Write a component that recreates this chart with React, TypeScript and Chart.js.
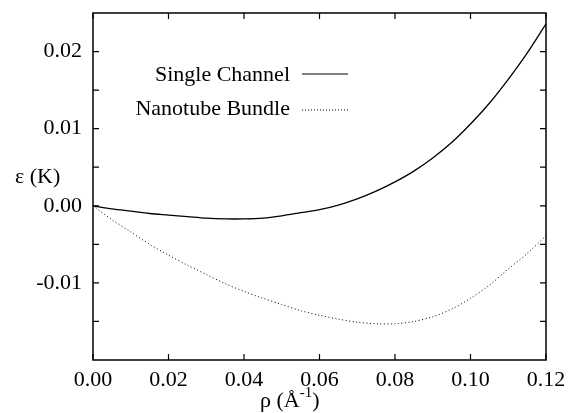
import React, { useEffect, useRef } from "react";
import { Chart, registerables } from "chart.js";

Chart.register(...registerables);

const rho = [0, 0.005, 0.01, 0.015, 0.02, 0.025, 0.03, 0.035, 0.04, 0.045, 0.05, 0.055, 0.06, 0.065, 0.07, 0.075, 0.08, 0.085, 0.09, 0.095, 0.1, 0.105, 0.11, 0.115, 0.12];
const singleChannel = [0, -0.0004, -0.0007, -0.001, -0.0012, -0.0014, -0.0016, -0.0017, -0.0017, -0.0016, -0.0013, -0.0009, -0.0005, 0.0001, 0.0009, 0.0019, 0.0031, 0.0045, 0.0062, 0.0082, 0.0106, 0.0133, 0.0164, 0.0198, 0.0236];
const nanotubeBundle = [0, -0.0018, -0.0034, -0.005, -0.0064, -0.0077, -0.0089, -0.0101, -0.0111, -0.012, -0.0128, -0.0136, -0.0142, -0.0147, -0.0151, -0.0153, -0.0153, -0.015, -0.0144, -0.0134, -0.012, -0.0103, -0.0082, -0.0062, -0.0039];
const seriesNames = ["Single Channel", "Nanotube Bundle"];
const xTicks = [0, 0.02, 0.04, 0.06, 0.08, 0.1, 0.12];
const yMinorTicks = [-0.015, -0.01, -0.005, 0, 0.005, 0.01, 0.015, 0.02];
const yLabelled = [-0.01, 0, 0.01, 0.02];

const FONT = "'Liberation Serif', 'Times New Roman', serif";

const framePlugin = {
  id: "frame",
  afterDraw(chart: any) {
    const { ctx, chartArea } = chart;
    const xs = chart.scales.x;
    const ys = chart.scales.y;
    const { left, right, top, bottom } = chartArea;
    ctx.save();
    ctx.strokeStyle = "#000";
    ctx.lineWidth = 1.5;
    ctx.strokeRect(left, top, right - left, bottom - top);
    ctx.lineWidth = 1.2;
    const tl = 6;
    ctx.beginPath();
    for (const v of xTicks) {
      const px = xs.getPixelForValue(v);
      ctx.moveTo(px, bottom);
      ctx.lineTo(px, bottom - tl);
      ctx.moveTo(px, top);
      ctx.lineTo(px, top + tl);
    }
    for (const v of yMinorTicks) {
      const py = ys.getPixelForValue(v);
      ctx.moveTo(left, py);
      ctx.lineTo(left + tl, py);
      ctx.moveTo(right, py);
      ctx.lineTo(right - tl, py);
    }
    ctx.stroke();

    // legend
    ctx.fillStyle = "#000";
    ctx.font = `22px ${FONT}`;
    ctx.textAlign = "right";
    ctx.textBaseline = "alphabetic";
    ctx.fillText(seriesNames[0], 290, 81);
    ctx.fillText(seriesNames[1], 290, 115);
    ctx.lineWidth = 1.2;
    ctx.beginPath();
    ctx.moveTo(302, 74);
    ctx.lineTo(348, 74);
    ctx.stroke();
    ctx.setLineDash([1, 2]);
    ctx.lineWidth = 1;
    ctx.beginPath();
    ctx.moveTo(302, 110);
    ctx.lineTo(348, 110);
    ctx.stroke();
    ctx.setLineDash([]);

    // axis titles
    ctx.textAlign = "left";
    ctx.fillText("ε (K)", 15, 183);
    const base = 407;
    let x = 260;
    const p1 = "ρ (Å";
    ctx.fillText(p1, x, base);
    x += ctx.measureText(p1).width;
    ctx.font = `15px ${FONT}`;
    ctx.fillText("-1", x, base - 10);
    x += ctx.measureText("-1").width;
    ctx.font = `22px ${FONT}`;
    ctx.fillText(")", x, base);
    ctx.restore();
  },
};

export default function App() {
  const ref = useRef<HTMLCanvasElement>(null);
  useEffect(() => {
    document.body.style.margin = "0";
    const mk = (ys: number[]) => rho.map((r, i) => ({ x: r, y: ys[i] }));
    const chart = new Chart(ref.current!, {
      type: "scatter",
      data: {
        datasets: [
          {
            label: seriesNames[0],
            data: mk(singleChannel),
            showLine: true,
            borderColor: "#000",
            borderWidth: 1.3,
            pointRadius: 0,
            tension: 0.3,
          },
          {
            label: seriesNames[1],
            data: mk(nanotubeBundle),
            showLine: true,
            borderColor: "#000",
            borderWidth: 1,
            borderDash: [1, 2.5],
            pointRadius: 0,
            tension: 0.3,
          },
        ],
      },
      options: {
        animation: false,
        responsive: false,
        layout: { padding: { top: 13, right: 28, left: 0, bottom: 0 } },
        plugins: { legend: { display: false }, tooltip: { enabled: false } },
        scales: {
          x: {
            type: "linear",
            min: 0,
            max: 0.12,
            afterFit: (s: any) => { s.height = 53; s.paddingLeft = 0; s.paddingRight = 0; },
            afterBuildTicks: (s: any) => { s.ticks = xTicks.map((v) => ({ value: v })); },
            grid: { display: false, drawTicks: false },
            border: { display: false },
            ticks: {
              padding: 7,
              color: "#000",
              font: { family: FONT, size: 22 },
              callback: (v: any) => Number(v).toFixed(2),
            },
          },
          y: {
            type: "linear",
            min: -0.02,
            max: 0.025,
            afterFit: (s: any) => { s.width = 93; s.paddingTop = 0; s.paddingBottom = 0; },
            afterBuildTicks: (s: any) => { s.ticks = yLabelled.map((v) => ({ value: v })); },
            grid: { display: false, drawTicks: false },
            border: { display: false },
            ticks: {
              padding: 11,
              color: "#000",
              font: { family: FONT, size: 22 },
              callback: (v: any) => Number(v).toFixed(2),
            },
          },
        },
      },
      plugins: [framePlugin],
    });
    return () => chart.destroy();
  }, []);
  return <canvas ref={ref} width={574} height={413} style={{ display: "block" }} />;
}
